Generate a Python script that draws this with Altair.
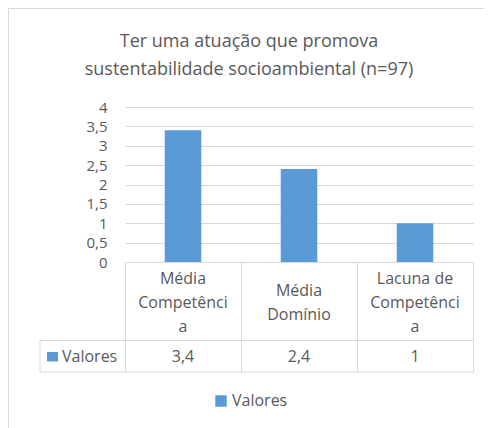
import altair as alt
import pandas as pd

# ---- data ----
categories = ["Média Competência", "Média Domínio", "Lacuna de Competência"]
category_lines = ["Média\nCompetênci\na", "Média\nDomínio", "Lacuna de\nCompetênci\na"]
values = [3.4, 2.4, 1]
series_name = "Valores"
y_ticks = [0, 0.5, 1, 1.5, 2, 2.5, 3, 3.5, 4]
title_lines = ["Ter uma atuação que promova", "sustentabilidade socioambiental (n=97)"]

df = pd.DataFrame({
    "categoria": categories,
    "rotulo": category_lines,
    "valor": values,
    "serie": [series_name] * len(categories),
})
one = pd.DataFrame({"serie": [series_name], "titulo": ["\n".join(title_lines)]})

FONT = "Open Sans"
GRAY = "#595959"
LINE = "#d9d9d9"
BLUE = "#5B9BD5"

W, H = 348, 155
LH = 24          # line height of the wrapped category labels
CELL_MID = 196   # vertical middle of the category cell (px below plot top)

xenc = alt.X("categoria:N", sort=categories,
             scale=alt.Scale(paddingInner=0, paddingOuter=0))

border = alt.Chart(one).mark_rect(fillOpacity=0, stroke=LINE, strokeWidth=1).encode(
    x=alt.value(-116.5), x2=alt.value(400), y=alt.value(-98.5), y2=alt.value(400)
)

bars = alt.Chart(df).mark_bar(width=alt.RelativeBandSize(0.315)).encode(
    x=alt.X("categoria:N", sort=categories,
            scale=alt.Scale(paddingInner=0, paddingOuter=0),
            axis=alt.Axis(title=None, labels=False, tickBand="extent", tickSize=110,
                          tickColor=LINE, domainColor=LINE, grid=False)),
    y=alt.Y("valor:Q", scale=alt.Scale(domain=[0, 4], nice=False),
            axis=alt.Axis(title=None, values=y_ticks, domain=False, ticks=False,
                          labelExpr="replace(toString(datum.value), '.', ',')",
                          labelPadding=18, labelFontSize=15, labelFont=FONT,
                          labelColor=GRAY, gridColor=LINE)),
    color=alt.Color("serie:N", scale=alt.Scale(range=[BLUE]),
                    legend=alt.Legend(title=None, orient="none", legendX=88, legendY=286,
                                      symbolType="square", symbolSize=132,
                                      symbolStrokeWidth=0, labelFontSize=16,
                                      labelFont=FONT, labelColor=GRAY, padding=0,
                                      labelOffset=3)),
)

cat_text = alt.Chart(df).transform_calculate(
    ypix=f"{CELL_MID} - (length(split(datum.rotulo, '\\n')) - 1) * {LH} / 2"
).mark_text(lineBreak="\n", fontSize=16, font=FONT, color=GRAY,
            baseline="middle", lineHeight=LH).encode(
    x=xenc, y=alt.Y("ypix:Q", scale=None), text="rotulo:N"
)

val_text = alt.Chart(df).transform_calculate(
    rot="replace(toString(datum.valor), '.', ',')"
).mark_text(fontSize=16, font=FONT, color=GRAY, baseline="middle").encode(
    x=xenc, y=alt.value(250), text="rot:N"
)

rule_mid = alt.Chart(one).mark_rule(color=LINE, strokeWidth=1).encode(
    x=alt.value(-85), x2=alt.value(W), y=alt.value(233.5)
)
rule_bot = alt.Chart(one).mark_rule(color=LINE, strokeWidth=1).encode(
    x=alt.value(-85), x2=alt.value(W), y=alt.value(265)
)
rule_left = alt.Chart(one).mark_rule(color=LINE, strokeWidth=1).encode(
    x=alt.value(-85), y=alt.value(233.5), y2=alt.value(265)
)

row_key = alt.Chart(one).mark_rect(color=BLUE).encode(
    x=alt.value(-78), x2=alt.value(-67), y=alt.value(245), y2=alt.value(254.5)
)
row_label = alt.Chart(one).mark_text(fontSize=16, font=FONT, color=GRAY,
                                     align="left", baseline="middle").encode(
    x=alt.value(-63), y=alt.value(250), text="serie:N"
)

title = alt.Chart(one).mark_text(lineBreak="\n", fontSize=18, font=FONT, color=GRAY,
                                 align="center", baseline="alphabetic", lineHeight=28).encode(
    x=alt.value(124), y=alt.value(-60), text="titulo:N"
)

chart = alt.layer(
    border, bars, cat_text, val_text, rule_mid, rule_bot, rule_left, row_key, row_label, title
).properties(
    width=W, height=H,
    autosize=alt.AutoSizeParams(type="none"),
    padding={"left": 117, "top": 99, "right": 11, "bottom": 166},
).configure_view(stroke=None)

chart.save("out.html", embed_options={"renderer": "svg", "actions": False})
